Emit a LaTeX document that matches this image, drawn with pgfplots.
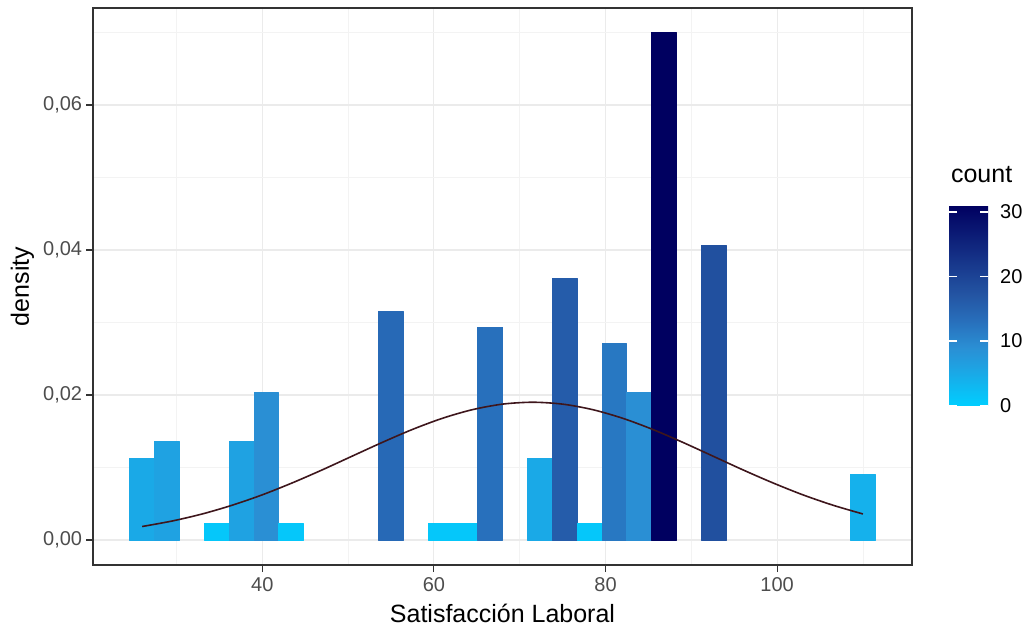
\documentclass[border=0pt]{standalone}
\usepackage{fontspec}
\setmainfont{Liberation Sans}
\usepackage{pgfplots}
\usepackage{pgfplotstable}
\pgfplotsset{compat=1.18}
\usepgfplotslibrary{patchplots}
\pgfkeys{/pgf/number format/assume math mode=true}
\definecolor{gridc}{RGB}{235,235,235}
\definecolor{gridm}{RGB}{243,243,243}
\definecolor{tickc}{RGB}{51,51,51}
\definecolor{labc}{RGB}{77,77,77}
\definecolor{curvec}{RGB}{62,22,28}

% histogram bars as rectangles: x y count
\pgfplotstableread{
x y c
24.552 0 5
27.448 0 5
27.448 0.011282 5
24.552 0.011282 5
27.448 0 6
30.345 0 6
30.345 0.013539 6
27.448 0.013539 6
33.241 0 1
36.138 0 1
36.138 0.002256 1
33.241 0.002256 1
36.138 0 6
39.034 0 6
39.034 0.013539 6
36.138 0.013539 6
39.034 0 9
41.931 0 9
41.931 0.020308 9
39.034 0.020308 9
41.931 0 1
44.828 0 1
44.828 0.002256 1
41.931 0.002256 1
53.517 0 14
56.414 0 14
56.414 0.031591 14
53.517 0.031591 14
59.310 0 1
62.207 0 1
62.207 0.002256 1
59.310 0.002256 1
62.207 0 1
65.103 0 1
65.103 0.002256 1
62.207 0.002256 1
65.103 0 13
68.000 0 13
68.000 0.029334 13
65.103 0.029334 13
70.897 0 5
73.793 0 5
73.793 0.011282 5
70.897 0.011282 5
73.793 0 16
76.690 0 16
76.690 0.036104 16
73.793 0.036104 16
76.690 0 1
79.586 0 1
79.586 0.002256 1
76.690 0.002256 1
79.586 0 12
82.483 0 12
82.483 0.027078 12
79.586 0.027078 12
82.483 0 9
85.379 0 9
85.379 0.020308 9
82.483 0.020308 9
85.379 0 31
88.276 0 31
88.276 0.069951 31
85.379 0.069951 31
91.172 0 18
94.069 0 18
94.069 0.040617 18
91.172 0.040617 18
108.552 0 4
111.448 0 4
111.448 0.009026 4
108.552 0.009026 4
}\bars

\pgfplotstableread{
x y
26 0.00186
29.5 0.00262
33 0.00359
36.5 0.00480
40 0.00623
43.5 0.00788
47 0.00968
50.5 0.01158
54 0.01347
57.5 0.01525
61 0.01679
64.5 0.01798
68 0.01874
71.5 0.01900
75 0.01874
78.5 0.01798
82 0.01679
85.5 0.01525
89 0.01347
92.5 0.01158
96 0.00968
99.5 0.00788
103 0.00623
106.5 0.00480
110 0.00359
}\curve

\begin{document}
\begin{tikzpicture}
\useasboundingbox (0,0) rectangle (515.5pt,315.5pt);
\begin{axis}[
  at={(46.5pt,33pt)}, anchor=south west,
  scale only axis, width=409.5pt, height=278.5pt,
  xmin=20.27, xmax=115.72, ymin=-0.00345, ymax=0.07338,
  xtick={40,60,80,100},
  minor xtick={30,50,70,90,110},
  ytick={0,0.02,0.04,0.06},
  minor ytick={0.01,0.03,0.05,0.07},
  scaled y ticks=false,
  grid=both,
  major grid style={gridc, line width=0.55pt},
  minor grid style={gridm, line width=0.3pt},
  tick pos=left,
  tick align=outside,
  major tick length=3.5pt,
  minor tick length=0pt,
  every tick/.style={tickc, line width=0.55pt},
  axis line style={tickc, line width=0.6pt},
  xticklabel style={font=\fontsize{10}{12}\selectfont, text=labc, inner sep=2.8pt},
  yticklabel style={font=\fontsize{10}{12}\selectfont, text=labc, inner sep=1.75pt,
    /pgf/number format/fixed, /pgf/number format/fixed zerofill,
    /pgf/number format/precision=2, /pgf/number format/use comma},
  xlabel={Satisfacción Laboral},
  ylabel={density},
  xlabel style={at={(axis description cs:0.5,-0.0862)}, anchor=center, font=\fontsize{12.5}{15}\selectfont, text=black},
  ylabel style={at={(axis description cs:-0.0861,0.5)}, anchor=center, font=\fontsize{12.5}{15}\selectfont, text=black},
  colormap={cnt}{rgb255(0pt)=(0,206,255) rgb255(6pt)=(31,162,226) rgb255(9pt)=(42,143,212) rgb255(13pt)=(40,112,188) rgb255(17pt)=(36,86,164) rgb255(31pt)=(0,0,96)},
  point meta min=0, point meta max=31,
  colorbar,
  colorbar/width=19.5pt,
  colorbar style={
    at={(parent axis.south east)}, anchor=south west,
    xshift=10pt, yshift=79.75pt,
    scale only axis, width=19.5pt, height=100pt,
    axis on top,
    axis line style={draw=none},
    grid=none,
    xtick=\empty,
    ytick={0,10,20,30},
    yticklabel pos=right,
    tick align=inside,
    major tick length=19.5pt,
    every tick/.style={white, line width=0.7pt, dash pattern=on 4pt off 11.5pt on 4pt},
    yticklabel style={font=\fontsize{10}{12}\selectfont, text=black, xshift=2.5pt},
    title={count},
    title style={at={(0,1)}, anchor=base west, inner sep=0pt, xshift=0.8pt, yshift=5.6pt, font=\fontsize{12.5}{15}\selectfont, text=black},
  },
]
\addplot[patch, patch type=rectangle, shader=flat, point meta=explicit]
  table[x=x, y=y, meta=c] {\bars};
\addplot[curvec, line width=0.8pt, smooth] table[x=x, y=y] {\curve};
\end{axis}
\end{tikzpicture}
\end{document}
